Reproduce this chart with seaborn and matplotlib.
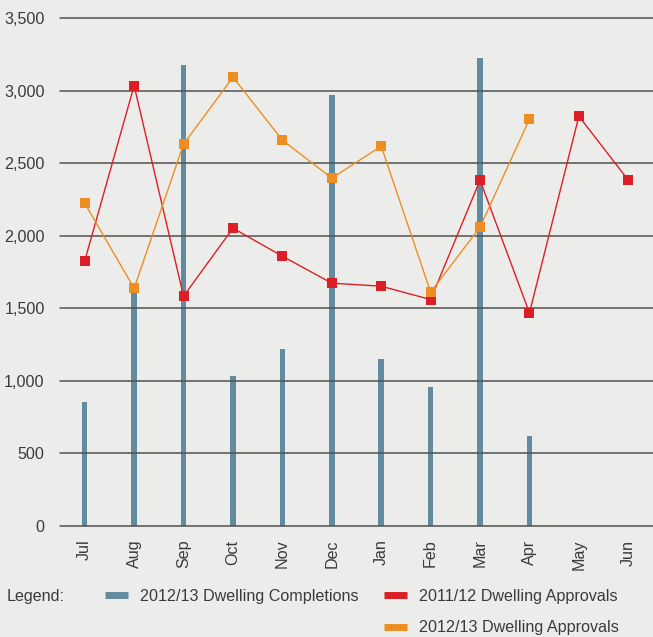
import numpy as np
import pandas as pd
import matplotlib
matplotlib.use("Agg")
import matplotlib.pyplot as plt
from matplotlib.lines import Line2D
from matplotlib.ticker import FuncFormatter
import seaborn as sns

months = ["Jul", "Aug", "Sep", "Oct", "Nov", "Dec", "Jan", "Feb", "Mar", "Apr", "May", "Jun"]
completions_1213 = [850, 1620, 3177, 1030, 1215, 2970, 1150, 956, 3225, 617, np.nan, np.nan]
approvals_1112 = [1825, 3034, 1582, 2051, 1858, 1672, 1651, 1559, 2382, 1467, 2823, 2382]
approvals_1213 = [2223, 1637, 2630, 3092, 2658, 2396, 2616, 1610, 2058, 2803, np.nan, np.nan]
y_ticks = [0, 500, 1000, 1500, 2000, 2500, 3000, 3500]
labels = ["2012/13 Dwelling Completions", "2011/12 Dwelling Approvals", "2012/13 Dwelling Approvals"]

bg = "#ECEDEA"
blue = "#628BA0"
red = "#DC1F26"
orange = "#EE8E22"
txt = "#3a3a3a"
fs = 11.6

sns.set_theme(style="white")
plt.rcParams["font.family"] = ["Liberation Sans", "DejaVu Sans"]

df = pd.DataFrame({"month": months, "comp": completions_1213,
                   "a1112": approvals_1112, "a1213": approvals_1213})

fig = plt.figure(figsize=(6.53, 6.37), dpi=100, facecolor=bg)
ax = fig.add_axes([60 / 653, 111.3 / 637, 593 / 653, 507.7 / 637])
ax.set_facecolor(bg)

for y in y_ticks:
    ax.axhline(y, color="#505050", lw=1.1, zorder=0, clip_on=False)

sns.barplot(data=df, x="month", y="comp", order=months, color=blue, width=0.11,
            saturation=1, linewidth=0, ax=ax, zorder=2)
sns.pointplot(data=df, x="month", y="a1112", order=months, color=red, markers="s",
              linestyles="-", markersize=6.8, linewidth=1.0, errorbar=None, ax=ax)
sns.pointplot(data=df, x="month", y="a1213", order=months, color=orange, markers="s",
              linestyles="-", markersize=6.8, linewidth=1.0, errorbar=None, ax=ax)
for ln in ax.lines:
    ln.set_markeredgewidth(0)
    ln.set_zorder(3)

ax.set_xlim(-0.5, 11.5)
ax.set_ylim(0, 3500)
ax.set_yticks(y_ticks)
ax.yaxis.set_major_formatter(FuncFormatter(lambda v, p: f"{int(v):,}"))
ax.set_xlabel("")
ax.set_ylabel("")
for s in ax.spines.values():
    s.set_visible(False)
ax.tick_params(axis="y", length=0, pad=11, labelsize=fs, labelcolor=txt)
ax.tick_params(axis="x", length=0, pad=10, labelsize=fs, labelcolor=txt, labelrotation=90)

fig.text(7 / 653, 1 - 596 / 637, "Legend:", fontsize=fs, color=txt, va="center", ha="left")
handles = [Line2D([0], [0], color=blue, lw=5, solid_capstyle="butt"),
           Line2D([0], [0], color="none", lw=0),
           Line2D([0], [0], color=red, lw=5, solid_capstyle="butt"),
           Line2D([0], [0], color=orange, lw=5, solid_capstyle="butt")]
leg = fig.legend(handles, [labels[0], "", labels[1], labels[2]], ncol=2,
                 loc="center left", bbox_to_anchor=(105 / 653, 1 - 612 / 637),
                 frameon=False, fontsize=fs, borderpad=0, borderaxespad=0,
                 handlelength=1.45, handletextpad=0.75, columnspacing=1.55,
                 labelspacing=1.05)
for t in leg.get_texts():
    t.set_color(txt)

fig.savefig("out.png", dpi=100, facecolor=bg)
